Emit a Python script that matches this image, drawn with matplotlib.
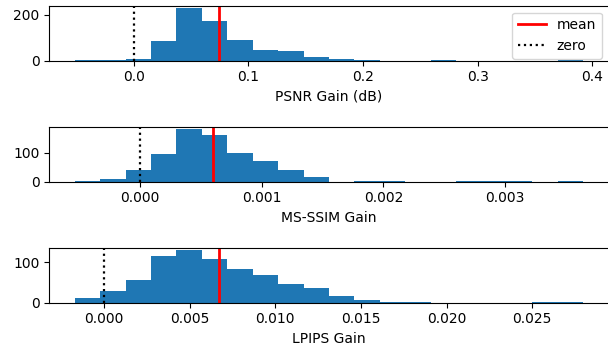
# Histogramas de ganancia (PSNR, MS-SSIM, LPIPS) con la media y el cero marcados.

import numpy as np
import matplotlib
matplotlib.use("Agg")
import matplotlib.pyplot as plt

# 1. Datos: conteos por bin (20 bins) y rango de cada histograma.
psnr_counts = [1, 2, 7, 86, 228, 171, 90, 47, 41, 16, 6, 3, 0, 0, 3, 0, 0, 0, 0, 1]
psnr_range = (-0.0514, 0.392)
psnr_mean = 0.0744

msssim_counts = [2, 9, 40, 96, 181, 160, 100, 71, 40, 16, 0, 1, 1, 0, 0, 1, 1, 1, 0, 1]
msssim_range = (-0.000536, 0.00364)
msssim_mean = 0.000602

lpips_counts = [12, 29, 56, 115, 129, 107, 83, 68, 46, 36, 16, 7, 3, 3, 0, 0, 0, 0, 3, 1]
lpips_range = (-0.00172, 0.02798)
lpips_mean = 0.00669

paneles = [
    ("PSNR Gain (dB)", psnr_counts, psnr_range, psnr_mean),
    ("MS-SSIM Gain", msssim_counts, msssim_range, msssim_mean),
    ("LPIPS Gain", lpips_counts, lpips_range, lpips_mean),
]

# 2. Figura.
fig, axes = plt.subplots(3, 1, figsize=(6.08, 3.52), dpi=100)
fig.subplots_adjust(left=0.081, right=1.001, top=0.984, bottom=0.140, hspace=1.2)

for i, (etiqueta, counts, rango, media) in enumerate(paneles):
    ax = axes[i]
    edges = np.linspace(rango[0], rango[1], len(counts) + 1)
    ax.hist(edges[:-1], bins=edges, weights=counts, color="#1f77b4")
    ax.axvline(media, color="red", linewidth=2, label="mean")
    ax.axvline(0, color="black", linestyle=":", linewidth=1.6, label="zero")
    ax.set_xlabel(etiqueta)
    if i == 0:
        ax.legend(loc="upper right")

# 3. Guardar.
fig.savefig("out.png", dpi=100)
